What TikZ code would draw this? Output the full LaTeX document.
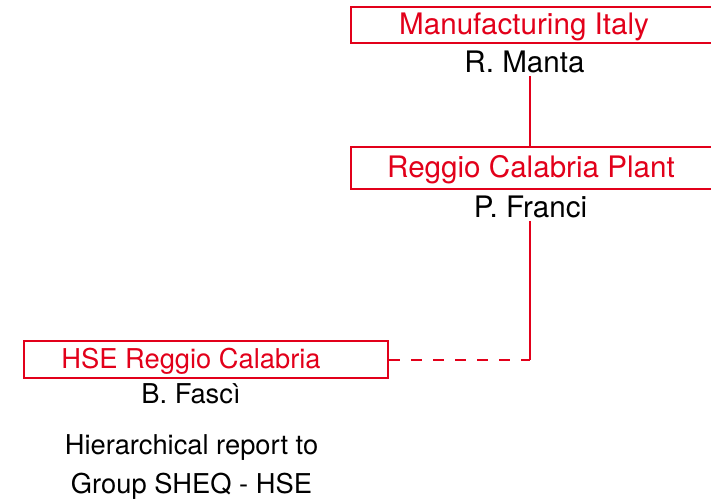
\documentclass[tikz,border=0pt]{standalone}
\usepackage{fontspec}
\setmainfont{TeX Gyre Heros}
\usetikzlibrary{positioning}
\definecolor{OrgRed}{HTML}{E2001A}
\definecolor{OrgInk}{HTML}{000000}

\begin{document}
\begin{tikzpicture}[
	x=1pt, y=-1pt,
	font=\fontsize{29.6}{39}\selectfont,
	small/.style={font=\fontsize{27.3}{39}\selectfont},
	unitbox/.style={draw=OrgRed, line width=2pt, inner sep=0pt, anchor=north west},
	unitname/.style={text=OrgRed, anchor=base, inner sep=0pt},
	person/.style={text=OrgInk, anchor=base},
	solidlink/.style={draw=OrgRed, line width=2pt},
	dashlink/.style={draw=OrgRed, line width=2pt, dash pattern=on 11pt off 11pt}
]
\clip (0,0) rectangle (711,501);

\node[unitbox, minimum width=420pt, minimum height=36pt] (italybox) at (350,6) {};
\node[unitbox, minimum width=420pt, minimum height=42pt] (plantbox) at (350,146) {};
\node[unitbox, minimum width=364.5pt, minimum height=37pt] (hsebox) at (22.7,340) {};

\node[unitname] (italy) at (524,34) {Manufacturing Italy};
\node[person] (manta) at (524.5,72) {R. Manta};
\node[unitname] (plant) at (531,177) {Reggio Calabria Plant};
\node[person] (franci) at (530.5,217) {P. Franci};
\node[unitname, small] (hse) at (191,368) {HSE Reggio Calabria};
\node[person, small] (fasci) at (191,403) {B. Fascì};
\node[person, small, align=center] (note) at (191.5,493) {Hierarchical report to\\Group SHEQ - HSE};

\coordinate (spine) at (530,0);
\coordinate (bend) at (spine |- hsebox.east);
\draw[solidlink] (spine |- manta.south) -- (spine |- plantbox.north);
\draw[solidlink] (spine |- franci.south) -- (bend);
\draw[dashlink] (hsebox.east) -- (bend);
\end{tikzpicture}
\end{document}
